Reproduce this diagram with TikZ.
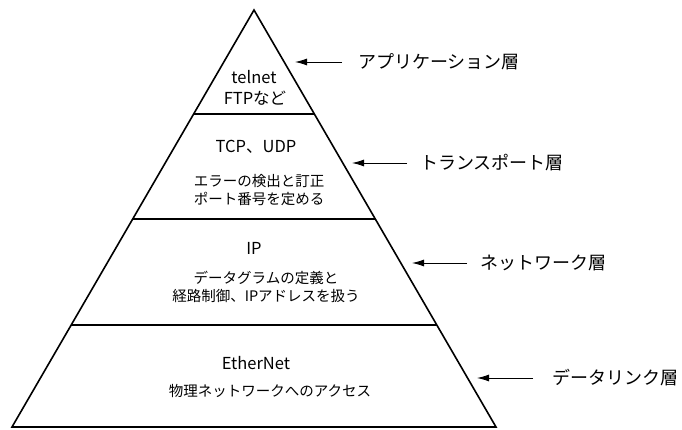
\documentclass[tikz,border=0pt]{standalone}
\usepackage{fontspec}
\setmainfont{Noto Sans CJK JP}
\usetikzlibrary{arrows.meta}
\begin{document}
\begin{tikzpicture}[x=1pt,y=-1pt,
  edge/.style={line width=1.6pt, line join=miter},
  sep/.style={line width=1.6pt},
  ptr/.style={-{Latex[length=12pt,width=7pt]}, line width=0.9pt},
  lay/.style={font=\fontsize{18}{20}\selectfont, anchor=west, inner sep=0pt},
  big/.style={font=\fontsize{16.5}{20}\selectfont, inner sep=0pt},
  small/.style={font=\fontsize{14.5}{17.5}\selectfont, align=center, inner sep=0pt}]
\useasboundingbox (0,0) rectangle (682,430);
% pyramid
\coordinate (apex) at (254,10);
\coordinate (bl) at (12,427);
\coordinate (br) at (496,427);
\draw[edge] (apex) -- (bl) -- (br) -- cycle;
% layer boundaries
\coordinate (l1) at (193.8,114);
\coordinate (r1) at (314.2,114);
\coordinate (l2) at (133,219);
\coordinate (r2) at (375,219);
\coordinate (l3) at (71.4,325);
\coordinate (r3) at (436.6,325);
\draw[sep] (l1) -- (r1);
\draw[sep] (l2) -- (r2);
\draw[sep] (l3) -- (r3);
% application
\node[big] (telnet) at (254,77) {telnet};
\node[big] (ftp) at (255,98) {FTPなど};
% transport
\node[big] (tcp) at (256,147) {TCP、UDP};
\node[small] (tdesc) at (259,190) {エラーの検出と訂正\\ポート番号を定める};
% network
\node[big] (ip) at (254,248) {IP};
\node[small] (ndesc) at (266,287) {データグラムの定義と\\経路制御、IPアドレスを扱う};
% data link
\node[big] (eth) at (256,363) {EtherNet};
\node[small] (ddesc) at (270,391) {物理ネットワークへのアクセス};
% right labels
\node[lay] (app) at (358,62) {アプリケーション層};
\node[lay] (trn) at (420,163) {トランスポート層};
\node[lay] (net) at (480,263) {ネットワーク層};
\node[lay] (dl) at (552,378) {データリンク層};
\coordinate (a1) at (295,62);
\coordinate (a2) at (352,163);
\coordinate (a3) at (412,263);
\coordinate (a4) at (477,378);
\draw[ptr] ([xshift=-16pt]app.west) -- (a1);
\draw[ptr] ([xshift=-13pt]trn.west) -- (a2);
\draw[ptr] ([xshift=-13pt]net.west) -- (a3);
\draw[ptr] ([xshift=-19pt]dl.west) -- (a4);
\end{tikzpicture}
\end{document}
